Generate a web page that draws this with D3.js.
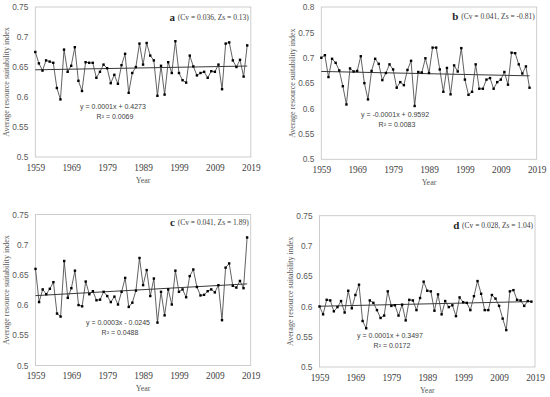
<!DOCTYPE html>
<html><head><meta charset="utf-8">
<script src="https://cdn.jsdelivr.net/npm/d3@7"></script>
<style>html,body{margin:0;padding:0;background:#fff;}svg{display:block;}</style>
</head><body>
<svg id="chart" width="550" height="397"></svg>
<script>
const startYear = 1959;
const xTickYears = [1959, 1969, 1979, 1989, 1999, 2009, 2019];
const yTicksA = [0.5, 0.55, 0.6, 0.65, 0.7, 0.75];
const yTicksB = [0.5, 0.55, 0.6, 0.65, 0.7, 0.75, 0.8];

const valuesA = [0.675,0.656,0.644,0.661,0.659,0.657,0.615,0.596,0.679,0.642,
  0.652,0.683,0.627,0.610,0.658,0.657,0.657,0.632,0.642,0.654,
  0.648,0.623,0.637,0.622,0.653,0.672,0.607,0.640,0.650,0.689,
  0.654,0.690,0.669,0.661,0.602,0.652,0.604,0.658,0.640,0.693,
  0.640,0.628,0.624,0.669,0.651,0.636,0.640,0.642,0.632,0.643,
  0.642,0.654,0.613,0.689,0.691,0.661,0.650,0.662,0.634,0.686];
const valuesB = [0.700,0.705,0.662,0.698,0.690,0.675,0.644,0.608,0.679,0.673,
  0.674,0.703,0.650,0.618,0.674,0.698,0.688,0.656,0.670,0.687,
  0.677,0.641,0.652,0.646,0.676,0.694,0.605,0.672,0.671,0.699,
  0.670,0.720,0.720,0.677,0.633,0.680,0.628,0.685,0.673,0.719,
  0.657,0.627,0.633,0.687,0.639,0.639,0.657,0.660,0.639,0.652,
  0.657,0.672,0.647,0.710,0.709,0.687,0.669,0.683,0.641];
const valuesC = [0.660,0.605,0.626,0.618,0.627,0.638,0.586,0.581,0.673,0.612,
  0.628,0.657,0.600,0.598,0.639,0.618,0.623,0.608,0.609,0.622,
  0.615,0.605,0.614,0.601,0.622,0.645,0.597,0.604,0.624,0.678,
  0.633,0.658,0.615,0.644,0.571,0.622,0.583,0.626,0.601,0.657,
  0.622,0.626,0.613,0.648,0.659,0.630,0.616,0.617,0.623,0.626,
  0.621,0.633,0.575,0.662,0.669,0.632,0.629,0.640,0.628,0.712];
const valuesD = [0.600,0.587,0.611,0.610,0.592,0.599,0.609,0.590,0.626,0.597,
  0.619,0.636,0.576,0.564,0.610,0.606,0.594,0.581,0.585,0.625,
  0.601,0.602,0.585,0.603,0.577,0.611,0.610,0.594,0.614,0.641,
  0.626,0.625,0.593,0.620,0.587,0.609,0.599,0.602,0.584,0.615,
  0.607,0.606,0.594,0.617,0.642,0.621,0.594,0.594,0.619,0.613,
  0.601,0.580,0.561,0.625,0.627,0.611,0.610,0.601,0.609,0.608];

const panelLetters = ["a", "b", "c", "d"];
const panelStats = ["(Cv = 0.036, Zs = 0.13)", "(Cv = 0.041, Zs = -0.81)", "(Cv = 0.041, Zs = 1.89)", "(Cv = 0.028, Zs = 1.04)"];
const equations = ["y = 0.0001x + 0.4273", "y = -0.0001x + 0.9592", "y = 0.0003x - 0.0245", "y = 0.0001x + 0.3497"];
const rSquared = ["R² = 0.0069", "R² = 0.0083", "R² = 0.0488", "R² = 0.0172"];
const yTitle = "Average resource suitability index";
const xTitle = "Year";

const panels = [
  {values: valuesA, yMax: 0.75, ticks: yTicksA, left: 35.3, top: 7, width: 215.5, height: 150, eqX: 113, eqY: 107, lblY: 17.5},
  {values: valuesB, yMax: 0.8,  ticks: yTicksB, left: 321.3, top: 7, width: 215.4, height: 152.3, eqX: 395, eqY: 115, lblY: 17},
  {values: valuesC, yMax: 0.75, ticks: yTicksA, left: 35.5, top: 214.5, width: 215.2, height: 151, eqX: 118, eqY: 322.7, lblY: 222.7},
  {values: valuesD, yMax: 0.75, ticks: yTicksA, left: 319.5, top: 215.7, width: 215.5, height: 151.3, eqX: 390, eqY: 335.7, lblY: 226}
];

const svg = d3.select("#chart");

panels.forEach((p, i) => {
  const data = p.values.map((v, k) => ({year: startYear + k, value: v}));
  const x = d3.scaleLinear().domain([1959, 2019]).range([p.left, p.left + p.width]);
  const y = d3.scaleLinear().domain([0.5, p.yMax]).range([p.top + p.height, p.top]);
  const g = svg.append("g");

  // plot frame
  g.append("rect").attr("x", p.left).attr("y", p.top).attr("width", p.width).attr("height", p.height)
    .attr("fill", "none").attr("stroke", "#c8c8c8").attr("stroke-width", 0.9);

  // y axis
  const yAxis = d3.axisLeft(y).tickValues(p.ticks).tickSize(0).tickPadding(7)
    .tickFormat(d => d3.format("")(+d.toFixed(2)));
  const ya = g.append("g").attr("transform", `translate(${p.left},0)`).call(yAxis);
  ya.select(".domain").remove();
  ya.selectAll("text").attr("font-family", "Liberation Sans, Arial, sans-serif").attr("font-size", 8.3).attr("fill", "#595959");

  // x axis
  const xAxis = d3.axisBottom(x).tickValues(xTickYears).tickSize(0).tickPadding(7).tickFormat(d3.format("d"));
  const xa = g.append("g").attr("transform", `translate(0,${p.top + p.height})`).call(xAxis);
  xa.select(".domain").remove();
  xa.selectAll("text").attr("font-family", "Liberation Serif, Times New Roman, serif").attr("font-size", 9.3).attr("fill", "#404040");

  // titles
  g.append("text").attr("x", p.left + p.width / 2).attr("y", p.top + p.height + 24)
    .attr("text-anchor", "middle").attr("dominant-baseline", "middle")
    .attr("font-family", "Liberation Serif, Times New Roman, serif").attr("font-size", 8).attr("fill", "#595959").text(xTitle);
  g.append("text").attr("transform", `translate(${p.left - 28},${p.top + p.height / 2}) rotate(-90)`)
    .attr("text-anchor", "middle").attr("dominant-baseline", "middle")
    .attr("font-family", "Liberation Serif, Times New Roman, serif").attr("font-size", 8).attr("fill", "#595959").text(yTitle);

  // regression (least squares from data)
  const n = data.length;
  const mx = d3.mean(data, d => d.year), my = d3.mean(data, d => d.value);
  const slope = d3.sum(data, d => (d.year - mx) * (d.value - my)) / d3.sum(data, d => (d.year - mx) ** 2);
  const icpt = my - slope * mx;
  const ends = [data[0].year, data[n - 1].year];
  g.append("line").attr("x1", x(ends[0])).attr("x2", x(ends[1]))
    .attr("y1", y(icpt + slope * ends[0])).attr("y2", y(icpt + slope * ends[1]))
    .attr("stroke", "#222").attr("stroke-width", 0.9);

  // data line
  const line = d3.line().x(d => x(d.year)).y(d => y(d.value));
  g.append("path").datum(data).attr("d", line).attr("fill", "none").attr("stroke", "#3a3a3a").attr("stroke-width", 0.8);
  g.selectAll(".pt").data(data).enter().append("rect")
    .attr("x", d => x(d.year) - 1.2).attr("y", d => y(d.value) - 1.2)
    .attr("width", 2.4).attr("height", 2.4).attr("fill", "#000");

  // equation text
  g.append("text").attr("x", p.eqX).attr("y", p.eqY).attr("text-anchor", "middle").attr("dominant-baseline", "middle")
    .attr("font-family", "Liberation Sans, Arial, sans-serif").attr("font-size", 7).attr("fill", "#404040").text(equations[i]);
  g.append("text").attr("x", p.eqX + 2).attr("y", p.eqY + 10).attr("text-anchor", "middle").attr("dominant-baseline", "middle")
    .attr("font-family", "Liberation Sans, Arial, sans-serif").attr("font-size", 7).attr("fill", "#404040").text(rSquared[i]);

  // panel label
  const lbl = g.append("text").attr("x", p.left + p.width - 2).attr("y", p.lblY).attr("text-anchor", "end")
    .attr("dominant-baseline", "middle").attr("font-family", "Liberation Serif, Times New Roman, serif").attr("fill", "#262626");
  lbl.append("tspan").attr("font-size", 11).attr("font-weight", "bold").text(panelLetters[i] + " ");
  lbl.append("tspan").attr("font-size", 7.5).attr("fill", "#404040").text(panelStats[i]);
});
</script>
</body></html>
